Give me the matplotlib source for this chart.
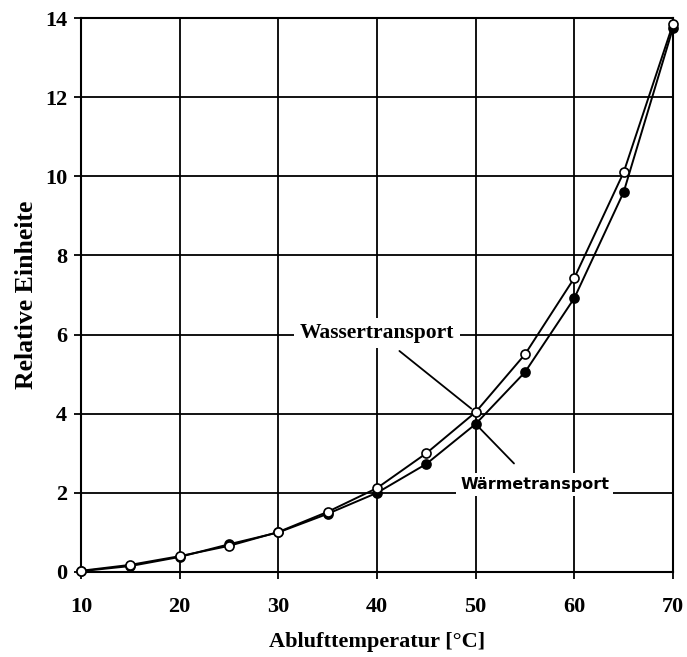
import matplotlib
matplotlib.use("Agg")
from matplotlib import pyplot as plt

# Ablufttemperatur [°C]
temperatur = [10, 15, 20, 25, 30, 35, 40, 45, 50, 55, 60, 65, 70]
# open circles
wassertransport = [0.03, 0.18, 0.40, 0.66, 1.01, 1.52, 2.12, 3.00, 4.04, 5.50, 7.43, 10.10, 13.85]
# filled circles
waermetransport = [0.02, 0.15, 0.38, 0.70, 1.00, 1.47, 2.00, 2.73, 3.74, 5.05, 6.92, 9.60, 13.75]

xticks = [10, 20, 30, 40, 50, 60, 70]
yticks = [0, 2, 4, 6, 8, 10, 12, 14]

serif = "Liberation Serif"

fig = plt.figure(figsize=(6.87, 6.57), dpi=100)
ax = fig.add_axes([0.1179, 0.1294, 0.8617, 0.8432])

ax.plot(temperatur, waermetransport, color="black", lw=1.4, marker="o", ms=6.5,
        mfc="black", mec="black", mew=1.2, zorder=4, clip_on=False)
ax.plot(temperatur, wassertransport, color="black", lw=1.4, marker="o", ms=6.5,
        mfc="white", mec="black", mew=1.2, zorder=5, clip_on=False)

ax.set_xlim(10, 70)
ax.set_ylim(0, 14)
ax.set_xticks(xticks)
ax.set_yticks(yticks)
ax.set_xticklabels([str(v) for v in xticks], fontfamily=serif, fontweight="bold", fontsize=16)
ax.set_yticklabels([str(v) for v in yticks], fontfamily=serif, fontweight="bold", fontsize=16)
ax.tick_params(axis="both", direction="out", length=5, width=1.3, color="black")
ax.tick_params(axis="x", pad=13)
ax.tick_params(axis="y", pad=5)

ax.grid(True, color="black", lw=1.3)
ax.set_axisbelow(True)
for s in ax.spines.values():
    s.set_linewidth(1.5)
    s.set_color("black")

ax.set_xlabel("Ablufttemperatur [°C]", fontfamily=serif, fontweight="bold", fontsize=16, labelpad=11)
ax.set_ylabel("Relative Einheite", fontfamily=serif, fontweight="bold", fontsize=18.5, labelpad=5)

# annotations
ax.annotate("Wassertransport", xy=(temperatur[8], wassertransport[8]), xytext=(40, 6.04),
            ha="center", va="center", fontfamily=serif, fontweight="bold", fontsize=15.5,
            bbox=dict(boxstyle="square,pad=0.25", fc="white", ec="none"),
            arrowprops=dict(arrowstyle="-", color="black", lw=1.3, shrinkA=3, shrinkB=4),
            zorder=3)
ax.annotate("Wärmetransport", xy=(temperatur[8], waermetransport[8]), xytext=(56, 2.2),
            ha="center", va="center", fontfamily="DejaVu Sans", fontweight="bold", fontsize=11.5,
            bbox=dict(boxstyle="square,pad=0.25", fc="white", ec="none"),
            arrowprops=dict(arrowstyle="-", color="black", lw=1.3, shrinkA=10, shrinkB=4),
            zorder=3)

fig.savefig("out.png", dpi=100)
